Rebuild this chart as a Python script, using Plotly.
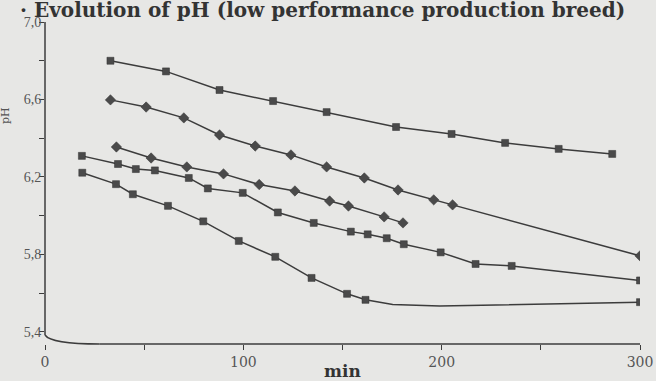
import plotly.graph_objects as go

# Series 1: top squares
t1 = [33, 61, 88, 115, 142, 177, 205, 232, 259, 286]
ph1 = [6.80, 6.745, 6.649, 6.592, 6.535, 6.458, 6.422, 6.376, 6.345, 6.319]

# Series 2: long diamond series
t2 = [33, 51, 70, 88, 106, 124, 142, 161, 178, 196, 205.5, 300]
ph2 = [6.598, 6.561, 6.505, 6.417, 6.360, 6.314, 6.252, 6.195, 6.133, 6.082, 6.056, 5.793]

# Series 3: short diamond series
t3 = [36, 53.5, 71.5, 90, 108, 126, 143.5, 153, 171, 180.5]
ph3 = [6.355, 6.298, 6.252, 6.216, 6.161, 6.128, 6.076, 6.050, 5.994, 5.963]

# Series 4: middle squares
t4 = [18.6, 36.8, 45.8, 55.4, 72.5, 82.1, 99.7, 117.4, 135.5, 154.2, 162.7, 172.3, 180.9, 199.5, 217.1, 235.3, 300]
ph4 = [6.309, 6.267, 6.241, 6.234, 6.195, 6.141, 6.118, 6.017, 5.963, 5.918, 5.904, 5.884, 5.853, 5.811, 5.751, 5.741, 5.666]

# Series 5: bottom squares (two unmarked line vertices near the flat end)
t5 = [18.8, 35.8, 44.3, 62.0, 79.8, 97.7, 116.1, 134.4, 152.3, 161.6, 175.3, 199, 300]
ph5 = [6.222, 6.163, 6.111, 6.051, 5.971, 5.870, 5.788, 5.679, 5.597, 5.566, 5.542, 5.534, 5.554]
marked5 = [1, 1, 1, 1, 1, 1, 1, 1, 1, 1, 0, 0, 1]

y_ticks = [5.4, 5.8, 6.2, 6.6, 7.0]
y_ticktext = ["5,4", "5,8", "6,2", "6,6", "7,0"]
y_minor = [5.6, 6.0, 6.4, 6.8]
x_ticks = [0, 100, 200, 300]
x_ticktext = ["0", "100", "200", "300"]
x_minor = [50, 150, 250]

LINE = "#3c3c3c"
MARK = "#4a4a4a"

fig = go.Figure()

def add_line(t, ph):
    fig.add_trace(go.Scatter(
        x=t, y=ph, mode="lines",
        line=dict(color=LINE, width=1.5),
        showlegend=False, hoverinfo="skip"))

def add_marks(t, ph, symbol, size):
    fig.add_trace(go.Scatter(
        x=t, y=ph, mode="markers",
        marker=dict(symbol=symbol, size=size, color=MARK,
                    line=dict(color="#333333", width=0.5)),
        showlegend=False, hoverinfo="skip"))

for t, ph, sym, sz in [(t1, ph1, "square", 7), (t2, ph2, "diamond", 8),
                       (t3, ph3, "diamond", 8), (t4, ph4, "square", 7)]:
    add_line(t, ph)
    add_marks(t, ph, sym, sz)

add_line(t5, ph5)
add_marks([t for t, m in zip(t5, marked5) if m],
          [p for p, m in zip(ph5, marked5) if m], "square", 7)

serif = "DejaVu Serif, Liberation Serif, serif"
serif2 = "Liberation Serif, DejaVu Serif, serif"

fig.update_layout(
    width=656, height=381,
    margin=dict(l=45, r=16, t=22, b=37, autoexpand=False),
    paper_bgcolor="#e7e7e5",
    plot_bgcolor="#e7e7e5",
    font=dict(family=serif, color="#555555", size=14),
    xaxis=dict(range=[0, 300], showline=False, zeroline=False, showgrid=False,
               automargin=False,
               tickmode="array", tickvals=x_ticks, ticktext=x_ticktext,
               ticks="outside", ticklen=5, tickcolor=LINE, tickwidth=1.2,
               minor=dict(tickmode="array", tickvals=x_minor, ticks="outside",
                          ticklen=5, tickcolor=LINE, tickwidth=1.2, showgrid=False),
               tickfont=dict(size=14, color="#555555"),
               title=dict(text="<b>min</b>", standoff=0,
                          font=dict(size=17, color="#333333"))),
    yaxis=dict(range=[5.338, 7.0], showline=False, zeroline=False, showgrid=False,
               automargin=False, ticklabelstandoff=-5,
               tickmode="array", tickvals=y_ticks, ticktext=y_ticktext,
               ticks="outside", ticklen=5, tickcolor=LINE, tickwidth=1.2,
               minor=dict(tickmode="array", tickvals=y_minor, ticks="outside",
                          ticklen=5, tickcolor=LINE, tickwidth=1.2, showgrid=False),
               tickfont=dict(family=serif2, size=14, color="#555555")),
    annotations=[
        dict(text="<b>· Evolution of pH (low performance production breed)</b>",
             xref="paper", yref="paper", x=-0.045, y=1.037,
             xanchor="left", yanchor="middle", showarrow=False,
             font=dict(family=serif, size=20, color="#333333")),
        dict(text="pH", xref="paper", yref="paper", x=-0.066, y=0.71,
             xanchor="center", yanchor="middle", showarrow=False, textangle=-90,
             font=dict(family=serif, size=11, color="#555555")),
    ],
)

# Axis frame: y-axis line, rounded corner, x-axis line
fig.add_shape(type="line", xref="paper", yref="paper", x0=0, y0=1, x1=0, y1=0.028,
              line=dict(color=LINE, width=1.5))
fig.add_shape(type="path", xref="paper", yref="paper",
              path="M 0,0.028 Q 0.01,0 0.092,0",
              line=dict(color=LINE, width=1.5))
fig.add_shape(type="line", xref="paper", yref="paper", x0=0.092, y0=0, x1=1, y1=0,
              line=dict(color=LINE, width=1.5))

fig.write_html("out.html", config={"displayModeBar": False},
               post_script="document.body.style.margin='0px';document.body.style.overflow='hidden';")
